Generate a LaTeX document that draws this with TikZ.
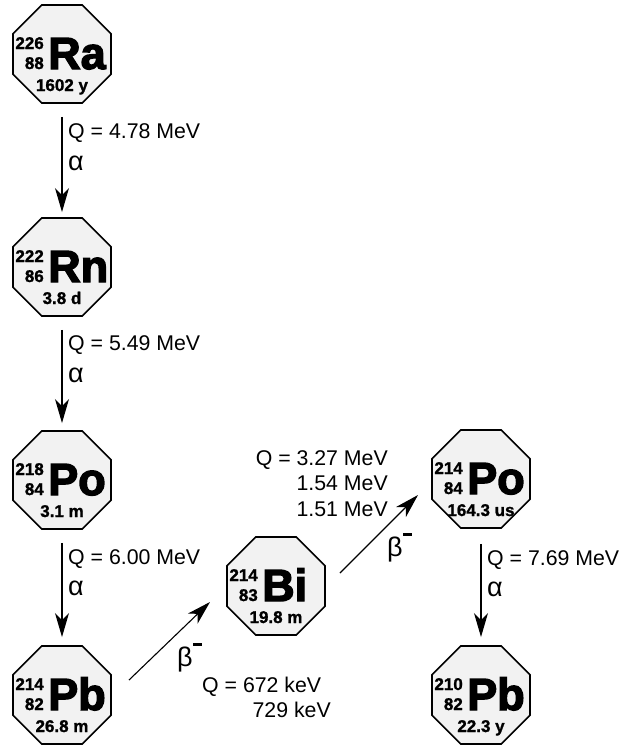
\documentclass[tikz,border=0pt]{standalone}
\usepackage{fontspec}
\setmainfont{Liberation Sans}
\newfontfamily\symfont[FakeBold=3]{Liberation Sans Bold}
\newfontfamily\numfont[FakeBold=1.2]{Liberation Sans Bold}
\usetikzlibrary{shapes.geometric,arrows.meta}

\tikzset{
  oct/.style={regular polygon, regular polygon sides=8, minimum size=106pt,
    inner sep=0pt, outer sep=0pt, draw=black, line width=1.6pt, fill=black!5},
  masst/.style={font=\numfont\fontsize{17}{17}\selectfont, inner sep=0pt},
  symt/.style={font=\symfont\fontsize{45}{45}\selectfont, inner sep=0pt},
  halft/.style={font=\numfont\fontsize{17}{17}\selectfont, inner sep=0pt},
  lbl/.style={font=\fontsize{21.3}{24}\selectfont, inner sep=0pt},
  greek/.style={font=\fontsize{27}{27}\selectfont, inner sep=0pt},
  arr/.style={line width=1.1pt, -{Stealth[length=24pt,width=14pt,inset=7pt]}},
}

\newcommand\drawnuclide[7]{%
  \node[oct] (#1) at (#2,#3) {};
  \node[masst, anchor=base east] (#1A) at ([shift={(-18,-5)}]#1.center) {#4};
  \node[masst, anchor=base east] (#1Z) at ([shift={(-18,15)}]#1.center) {#5};
  \node[symt, anchor=base west] (#1S) at ([shift={(-14,15)}]#1.center) {#6};
  \node[halft, anchor=base] (#1H) at ([shift={(0,37)}]#1.center) {#7};
}

\begin{document}
\begin{tikzpicture}[x=1pt,y=-1pt]
\useasboundingbox (0,0) rectangle (620,748);

\drawnuclide{Ra}{62}{54}{226}{88}{Ra}{1602 y}
\drawnuclide{Rn}{62}{267}{222}{86}{Rn}{3.8 d}
\drawnuclide{PoA}{62}{480}{218}{84}{Po}{3.1 m}
\drawnuclide{PbA}{62}{695}{214}{82}{Pb}{26.8 m}
\drawnuclide{Bi}{276}{586}{214}{83}{Bi}{19.8 m}
\drawnuclide{PoB}{481}{479}{214}{84}{Po}{164.3 us}
\drawnuclide{PbB}{481}{695}{210}{82}{Pb}{22.3 y}

% alpha decays
\draw[arr] ([yshift=-14pt]Ra.south) coordinate (s1) -- ([yshift=6pt]Rn.north);
\node[lbl, anchor=base west] (q1) at ([shift={(6,22)}]s1) {Q = 4.78 MeV};
\node[greek, anchor=base west] (al1) at ([shift={(6,54)}]s1) {α};

\draw[arr] ([yshift=-14pt]Rn.south) coordinate (s2) -- ([yshift=8pt]PoA.north);
\node[lbl, anchor=base west] (q2) at ([shift={(6,21)}]s2) {Q = 5.49 MeV};
\node[greek, anchor=base west] (al2) at ([shift={(6,53)}]s2) {α};

\draw[arr] ([yshift=-14pt]PoA.south) coordinate (s3) -- ([yshift=9pt]PbA.north);
\node[lbl, anchor=base west] (q3) at ([shift={(6,22)}]s3) {Q = 6.00 MeV};
\node[greek, anchor=base west] (al3) at ([shift={(6,53)}]s3) {α};

\draw[arr] ([yshift=-16pt]PoB.south) coordinate (s4) -- ([yshift=9pt]PbB.north);
\node[lbl, anchor=base west] (q4) at ([shift={(6,22)}]s4) {Q = 7.69 MeV};
\node[greek, anchor=base west] (al4) at ([shift={(6,53)}]s4) {α};

% beta decays
\draw[arr] ([shift={(67,-15)}]PbA.center) -- ([shift={(-66,16)}]Bi.center);
\node[greek, anchor=base west] (b1) at (177,666) {β\kern0.5pt\raisebox{20pt}{\rule{9pt}{3pt}}};
\node[lbl, anchor=base west] (q5) at (202,692) {Q = 672 keV};
\node[lbl, anchor=base east] (q6) at (331,717) {729 keV};

\draw[arr] ([shift={(64,-13)}]Bi.center) -- ([shift={(-63,16)}]PoB.center);
\node[greek, anchor=base west] (b2) at (387,556) {β\kern0.5pt\raisebox{20pt}{\rule{9pt}{3pt}}};
\node[lbl, anchor=base east] (q7) at (388,465) {Q = 3.27 MeV};
\node[lbl, anchor=base east] (q8) at (388,490) {1.54 MeV};
\node[lbl, anchor=base east] (q9) at (388,516) {1.51 MeV};
\end{tikzpicture}
\end{document}
